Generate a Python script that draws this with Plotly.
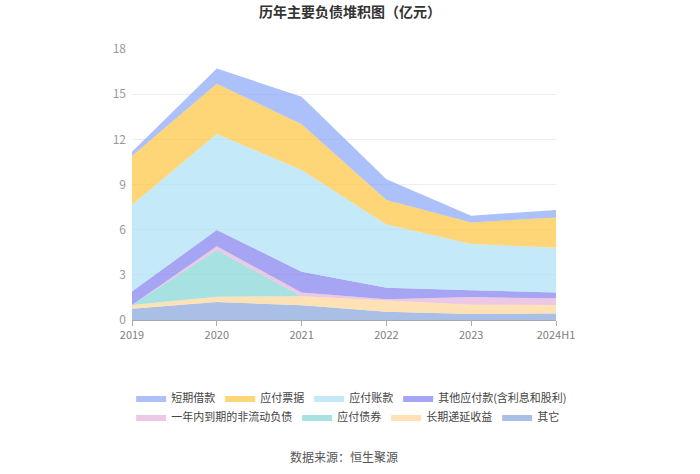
import plotly.graph_objects as go

years = ["2019", "2020", "2021", "2022", "2023", "2024H1"]

# values in 亿元 (legend order)
short_loans = [0.29, 1.00, 1.83, 1.38, 0.45, 0.50]      # 短期借款
notes_payable = [3.25, 3.35, 3.04, 1.62, 1.44, 2.00]    # 应付票据
accounts_payable = [5.74, 6.37, 6.75, 4.20, 3.07, 2.98] # 应付账款
other_payables = [0.90, 1.08, 1.39, 0.77, 0.45, 0.38]   # 其他应付款(含利息和股利)
current_ncl = [0.00, 0.25, 0.25, 0.08, 0.50, 0.44]      # 一年内到期的非流动负债
bonds_payable = [0.00, 3.10, 0.00, 0.00, 0.00, 0.00]    # 应付债券
deferred_income = [0.25, 0.35, 0.59, 0.75, 0.62, 0.56]  # 长期递延收益
others = [0.75, 1.20, 0.98, 0.55, 0.40, 0.44]           # 其它

names = ["短期借款", "应付票据", "应付账款", "其他应付款(含利息和股利)",
         "一年内到期的非流动负债", "应付债券", "长期递延收益", "其它"]
series = [short_loans, notes_payable, accounts_payable, other_payables,
          current_ncl, bonds_payable, deferred_income, others]
fills = ["rgba(127,158,247,0.65)", "rgba(255,197,61,0.70)", "rgba(165,221,246,0.65)",
         "rgba(116,116,238,0.65)", "rgba(229,176,217,0.70)", "rgba(125,211,211,0.68)",
         "rgba(253,213,151,0.70)", "rgba(142,170,220,0.75)"]

xpos = list(range(len(years)))
fig = go.Figure()
# add bottom-to-top for stacking
for i in reversed(range(len(names))):
    fig.add_trace(go.Scatter(
        x=xpos, y=series[i], name=names[i], stackgroup="one", mode="lines",
        line=dict(width=0, color=fills[i]), fillcolor=fills[i],
        legend="legend" if i < 4 else "legend2",
    ))

font_family = "Noto Sans CJK SC, Noto Sans, sans-serif"
leg_x = -0.002
fig.update_layout(
    width=700, height=474,
    margin=dict(l=132, r=144, t=49, b=154),
    paper_bgcolor="white", plot_bgcolor="white",
    font=dict(family=font_family, size=11, color="#666"),
    title=dict(text="<b>历年主要负债堆积图（亿元）</b>", x=0.5, xanchor="center",
               y=0.975, yanchor="middle", font=dict(size=14, color="#333")),
    xaxis=dict(range=[0, 5], tickmode="array", tickvals=xpos, ticktext=years,
               showgrid=False, showline=True, linecolor="#aaa", linewidth=1,
               ticks="outside", ticklen=5, tickcolor="#aaa",
               tickfont=dict(size=11, color="#808080"), zeroline=False),
    yaxis=dict(range=[0, 18], dtick=3, showgrid=True, gridcolor="#eeeeee",
               showline=False, zeroline=False, ticks="", ticklabelstandoff=5,
               tickfont=dict(size=12, color="#999")),
    legend=dict(orientation="h", x=leg_x, xanchor="left", y=-0.288, yanchor="middle",
                traceorder="reversed", font=dict(size=11, color="#444"),
                itemwidth=30, bgcolor="rgba(0,0,0,0)"),
    legend2=dict(orientation="h", x=leg_x, xanchor="left", y=-0.358, yanchor="middle",
                 traceorder="reversed", font=dict(size=11, color="#444"),
                 itemwidth=30, bgcolor="rgba(0,0,0,0)"),
    annotations=[dict(text="数据来源：恒生聚源", xref="paper", yref="paper",
                      x=0.5, y=-0.5055, xanchor="center", yanchor="middle",
                      showarrow=False, font=dict(size=12, color="#555"))],
    hovermode="x unified",
)

fig.write_html("out.html", config={"displayModeBar": False},
               post_script="document.body.style.margin='0';")
